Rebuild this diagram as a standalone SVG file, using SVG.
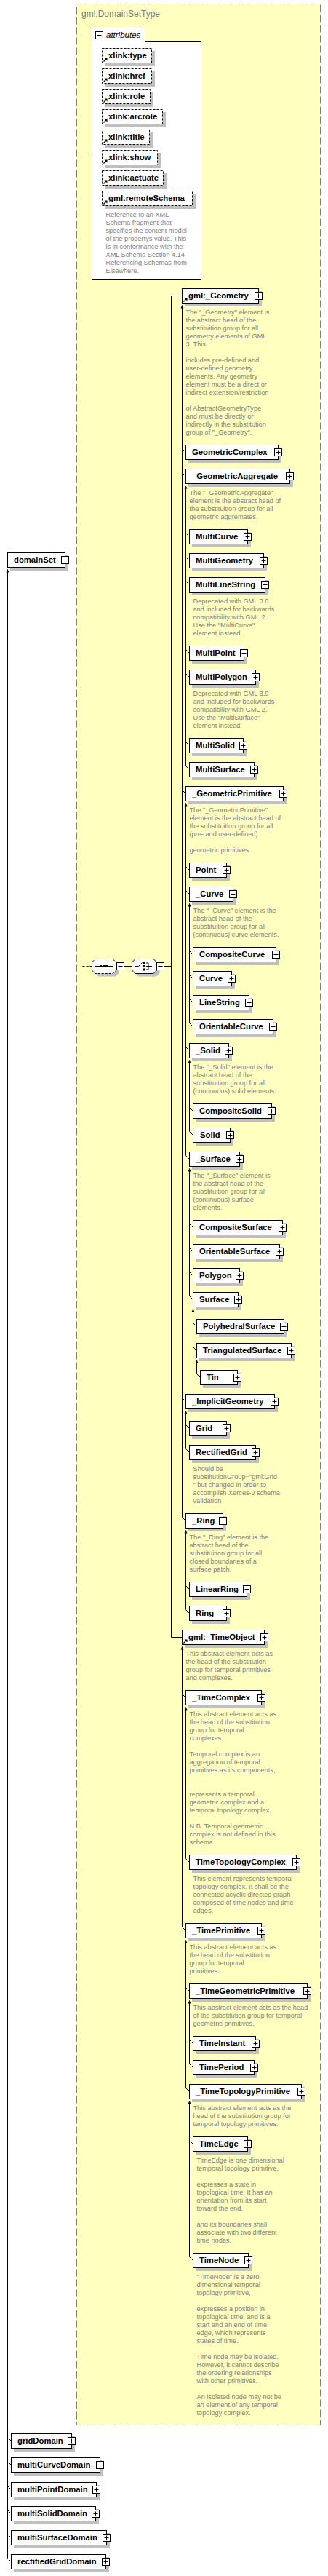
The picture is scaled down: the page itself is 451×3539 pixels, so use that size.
<svg xmlns="http://www.w3.org/2000/svg" width="451" height="3539" viewBox="0 0 451 3539">
<style>
.bx{fill:#fff;stroke:#000;stroke-width:1}
.ad{fill:#fff;stroke:#000;stroke-width:1;stroke-dasharray:3,2}
.sh{fill:#c0c0c0}
.lb{font-family:"Liberation Sans",Arial,sans-serif;font-weight:bold;font-size:11.3px;fill:#000}
.ds{font-family:"Liberation Sans",Arial,sans-serif;font-size:9.2px;fill:#808080}
.ln{fill:none;stroke:#000;stroke-width:1}
.dl{fill:none;stroke:#000;stroke-width:1;stroke-dasharray:3,2}
.ti{font-family:"Liberation Sans",Arial,sans-serif;font-size:12px;fill:#808080}
</style>
<defs>
<g id="p"><rect x="-5" y="-5" width="10" height="10" fill="#fff" stroke="#000"/><path d="M-3,0H3M0,-3V3" stroke="#000"/></g>
<g id="m"><rect x="-5" y="-5" width="10" height="10" fill="#fff" stroke="#000"/><path d="M-3,0H3" stroke="#000"/></g>
<g id="rf"><path d="M2,-2L5.5,-5.5" stroke="#000" stroke-width="1.2"/><path d="M3,-7H7V-3Z" fill="#000"/></g>
<path id="ar" d="M0,2.5L-2,7H2Z" fill="#000"/>
</defs>

<g id="type-box">
<rect x="105.5" y="5.5" width="335" height="3326" fill="#ffffc0" stroke="#808080" stroke-dasharray="10,4"/>
<text class="ti" x="112" y="23">gml:DomainSetType</text>
</g>

<g id="connectors">
<path class="ln" d="M126.5,211.5H111.5V769.5M94.5,769.5H111.5"/>
<path class="dl" d="M111.5,769.5V1327.5H126.5"/>
<path class="ln" d="M170.5,1327.5H181.5M225.5,1327.5H235.5M250.5,406.5H235.5V2249.5H250.5"/>
<path class="ln" d="M10.5,782.5V3514.5M250.5,419.5V2084.5M255.5,667.5V1052.5M255.5,1103.5V1587.5M260.5,1241.5V1405.5M260.5,1456.5V1554.5M260.5,1605.5V1780.5M265.5,1798.5V1850.5M270.5,1868.5V1887.5M255.5,1938.5V1990.5M255.5,2102.5V2211.5M250.5,2262.5V2647.5M255.5,2345.5V2553.5M255.5,2665.5V2868.5M260.5,2748.5V2835.5M260.5,2886.5V3100.5"/>
<use href="#ar" x="10.5" y="779.5"/>
<use href="#ar" x="250.5" y="416.5"/>
<use href="#ar" x="255.5" y="664.5"/>
<use href="#ar" x="255.5" y="1100.5"/>
<use href="#ar" x="260.5" y="1238.5"/>
<use href="#ar" x="260.5" y="1453.5"/>
<use href="#ar" x="260.5" y="1602.5"/>
<use href="#ar" x="265.5" y="1795.5"/>
<use href="#ar" x="270.5" y="1865.5"/>
<use href="#ar" x="255.5" y="1935.5"/>
<use href="#ar" x="255.5" y="2099.5"/>
<use href="#ar" x="250.5" y="2259.5"/>
<use href="#ar" x="255.5" y="2342.5"/>
<use href="#ar" x="255.5" y="2662.5"/>
<use href="#ar" x="260.5" y="2745.5"/>
<use href="#ar" x="260.5" y="2883.5"/>
<path class="ln" d="M250.5,616.5l5,5M250.5,649.5l5,5M255.5,732.5l5,5M255.5,765.5l5,5M255.5,798.5l5,5M255.5,892.5l5,5M255.5,925.5l5,5M255.5,1019.5l5,5M255.5,1052.5l5,5M250.5,1085.5l5,5M255.5,1190.5l5,5M255.5,1223.5l5,5M260.5,1306.5l5,5M260.5,1339.5l5,5M260.5,1372.5l5,5M260.5,1405.5l5,5M255.5,1438.5l5,5M260.5,1521.5l5,5M260.5,1554.5l5,5M255.5,1587.5l5,5M260.5,1681.5l5,5M260.5,1714.5l5,5M260.5,1747.5l5,5M260.5,1780.5l5,5M265.5,1817.5l5,5M265.5,1850.5l5,5M270.5,1887.5l5,5M250.5,1920.5l5,5M255.5,1957.5l5,5M255.5,1990.5l5,5M250.5,2084.5l5,5M255.5,2178.5l5,5M255.5,2211.5l5,5M250.5,2327.5l5,5M255.5,2553.5l5,5M250.5,2647.5l5,5M255.5,2730.5l5,5M260.5,2802.5l5,5M260.5,2835.5l5,5M255.5,2868.5l5,5M260.5,2940.5l5,5M260.5,3100.5l5,5M10.5,3348.5l5,5M10.5,3381.5l5,5M10.5,3415.5l5,5M10.5,3448.5l5,5M10.5,3481.5l5,5M10.5,3514.5l5,5"/>
</g>

<g id="attributes">
<path d="M126.5,38.5H199.5V57.5H276.5V383.5H126.5Z" fill="#fff" stroke="#000"/>
<use href="#m" x="136.5" y="48.5"/>
<text x="146" y="52" font-family="Liberation Sans,Arial,sans-serif" font-style="italic" font-size="11.5px" fill="#000">attributes</text>
</g>

<g id="a-type"><rect class="sh" x="144" y="70" width="69" height="21"/><rect class="ad" x="140.5" y="66.5" width="68" height="20"/><text class="lb" x="149" y="80">xlink:type</text><use href="#rf" x="140.5" y="86.5"/></g>
<g id="a-href"><rect class="sh" x="144" y="98" width="69" height="21"/><rect class="ad" x="140.5" y="94.5" width="68" height="20"/><text class="lb" x="149" y="108">xlink:href</text><use href="#rf" x="140.5" y="114.5"/></g>
<g id="a-role"><rect class="sh" x="144" y="126" width="67" height="21"/><rect class="ad" x="140.5" y="122.5" width="66" height="20"/><text class="lb" x="149" y="136">xlink:role</text><use href="#rf" x="140.5" y="142.5"/></g>
<g id="a-arcrole"><rect class="sh" x="144" y="154" width="84" height="21"/><rect class="ad" x="140.5" y="150.5" width="83" height="20"/><text class="lb" x="149" y="164">xlink:arcrole</text><use href="#rf" x="140.5" y="170.5"/></g>
<g id="a-title"><rect class="sh" x="144" y="182" width="66" height="21"/><rect class="ad" x="140.5" y="178.5" width="65" height="20"/><text class="lb" x="149" y="192">xlink:title</text><use href="#rf" x="140.5" y="198.5"/></g>
<g id="a-show"><rect class="sh" x="144" y="210" width="77" height="21"/><rect class="ad" x="140.5" y="206.5" width="76" height="20"/><text class="lb" x="149" y="220">xlink:show</text><use href="#rf" x="140.5" y="226.5"/></g>
<g id="a-actuate"><rect class="sh" x="144" y="238" width="85" height="21"/><rect class="ad" x="140.5" y="234.5" width="84" height="20"/><text class="lb" x="149" y="248">xlink:actuate</text><use href="#rf" x="140.5" y="254.5"/></g>
<g id="a-remoteSchema"><rect class="sh" x="144" y="266" width="125" height="21"/><rect class="ad" x="140.5" y="262.5" width="124" height="20"/><text class="lb" x="149" y="276">gml:remoteSchema</text><use href="#rf" x="140.5" y="282.5"/>
<text class="ds"><tspan x="145.5" y="297.5">Reference to an XML</tspan><tspan x="145.5" y="308.5">Schema fragment that</tspan><tspan x="145.5" y="319.5">specifies the content model</tspan><tspan x="145.5" y="330.5">of the propertys value. This</tspan><tspan x="145.5" y="341.5">is in conformance with the</tspan><tspan x="145.5" y="352.5">XML Schema Section 4.14</tspan><tspan x="145.5" y="363.5">Referencing Schemas from</tspan><tspan x="145.5" y="374.5">Elsewhere.</tspan></text></g>

<g id="domainSet"><rect class="sh" x="14" y="763" width="80" height="21"/><rect class="bx" x="10.5" y="759.5" width="79" height="20"/><text class="lb" x="19" y="773">domainSet</text><use href="#m" x="89.5" y="769.5"/></g>

<g id="sequence">
<path d="M135,1321.5H159L163.5,1326V1337L159,1341.5H135L130.5,1337V1326Z" fill="#c0c0c0"/>
<path d="M131,1317.5H155L159.5,1322V1333L155,1337.5H131L126.5,1333V1322Z" fill="#fff" stroke="#000" stroke-dasharray="3,2"/>
<path class="ln" d="M131,1327.5H156"/>
<rect x="137" y="1326" width="3" height="3"/><rect x="141" y="1326" width="3" height="3"/><rect x="145" y="1326" width="3" height="3"/>
<use href="#m" x="165.5" y="1327.5"/>
</g>

<g id="choice">
<path d="M190,1321.5H215L219.5,1326V1337L215,1341.5H190L185.5,1337V1326Z" fill="#c0c0c0"/>
<path d="M186,1317.5H211L215.5,1322V1333L211,1337.5H186L181.5,1333V1322Z" fill="#fff" stroke="#000"/>
<path class="ln" d="M186,1327.5H190.5L195.5,1322.5M201,1323H204M201,1327.5H209M201,1332H204M204,1323V1332"/>
<rect x="197" y="1321.5" width="3" height="3"/><rect x="197" y="1326" width="3" height="3"/><rect x="197" y="1330.5" width="3" height="3"/>
<use href="#m" x="220.5" y="1327.5"/>
</g>

<g id="n-Geometry"><rect class="sh" x="254" y="400" width="106" height="21"/><rect class="bx" x="250.5" y="396.5" width="105" height="20"/><text class="lb" x="259" y="410">gml:_Geometry</text><use href="#rf" x="250.5" y="416.5"/><use href="#p" x="355.5" y="406.5"/>
<text class="ds"><tspan x="255.5" y="431.5">The "_Geometry" element is</tspan><tspan x="255.5" y="442.5">the abstract head of the</tspan><tspan x="255.5" y="453.5">substituition group for all</tspan><tspan x="255.5" y="464.5">geometry elements of GML</tspan><tspan x="255.5" y="475.5">3. This</tspan><tspan x="255.5" y="497.5">includes pre-defined and</tspan><tspan x="255.5" y="508.5">user-defined geometry</tspan><tspan x="255.5" y="519.5">elements. Any geometry</tspan><tspan x="255.5" y="530.5">element must be a direct or</tspan><tspan x="255.5" y="541.5">indirect extension/restriction</tspan><tspan x="255.5" y="563.5">of AbstractGeometryType</tspan><tspan x="255.5" y="574.5">and must be directly or</tspan><tspan x="255.5" y="585.5">indirectly in the substitution</tspan><tspan x="255.5" y="596.5">group of "_Geometry".</tspan></text></g>

<g id="n-GeometricComplex"><rect class="sh" x="259" y="615" width="128" height="21"/><rect class="bx" x="255.5" y="611.5" width="127" height="20"/><text class="lb" x="264" y="625">GeometricComplex</text><use href="#p" x="382.5" y="621.5"/></g>

<g id="n-GeometricAggregate"><rect class="sh" x="259" y="648" width="144" height="21"/><rect class="bx" x="255.5" y="644.5" width="143" height="20"/><text class="lb" x="264" y="658">_GeometricAggregate</text><use href="#p" x="398.5" y="654.5"/>
<text class="ds"><tspan x="260.5" y="679.5">The "_GeometricAggregate"</tspan><tspan x="260.5" y="690.5">element is the abstract head of</tspan><tspan x="260.5" y="701.5">the substituition group for all</tspan><tspan x="260.5" y="712.5">geometric aggremates.</tspan></text></g>

<g id="n-MultiCurve"><rect class="sh" x="264" y="731" width="81" height="21"/><rect class="bx" x="260.5" y="727.5" width="80" height="20"/><text class="lb" x="269" y="741">MultiCurve</text><use href="#p" x="340.5" y="737.5"/></g>
<g id="n-MultiGeometry"><rect class="sh" x="264" y="764" width="103" height="21"/><rect class="bx" x="260.5" y="760.5" width="102" height="20"/><text class="lb" x="269" y="774">MultiGeometry</text><use href="#p" x="362.5" y="770.5"/></g>
<g id="n-MultiLineString"><rect class="sh" x="264" y="797" width="105" height="21"/><rect class="bx" x="260.5" y="793.5" width="104" height="20"/><text class="lb" x="269" y="807">MultiLineString</text><use href="#p" x="364.5" y="803.5"/>
<text class="ds"><tspan x="265.5" y="828.5">Deprecated with GML 3.0</tspan><tspan x="265.5" y="839.5">and included for backwards</tspan><tspan x="265.5" y="850.5">compatibility with GML 2.</tspan><tspan x="265.5" y="861.5">Use the "MultiCurve"</tspan><tspan x="265.5" y="872.5">element instead.</tspan></text></g>
<g id="n-MultiPoint"><rect class="sh" x="264" y="891" width="76" height="21"/><rect class="bx" x="260.5" y="887.5" width="75" height="20"/><text class="lb" x="269" y="901">MultiPoint</text><use href="#p" x="335.5" y="897.5"/></g>
<g id="n-MultiPolygon"><rect class="sh" x="264" y="924" width="92" height="21"/><rect class="bx" x="260.5" y="920.5" width="91" height="20"/><text class="lb" x="269" y="934">MultiPolygon</text><use href="#p" x="351.5" y="930.5"/>
<text class="ds"><tspan x="265.5" y="955.5">Deprecated with GML 3.0</tspan><tspan x="265.5" y="966.5">and included for backwards</tspan><tspan x="265.5" y="977.5">compatibility with GML 2.</tspan><tspan x="265.5" y="988.5">Use the "MultiSurface"</tspan><tspan x="265.5" y="999.5">element instead.</tspan></text></g>
<g id="n-MultiSolid"><rect class="sh" x="264" y="1018" width="75" height="21"/><rect class="bx" x="260.5" y="1014.5" width="74" height="20"/><text class="lb" x="269" y="1028">MultiSolid</text><use href="#p" x="334.5" y="1024.5"/></g>
<g id="n-MultiSurface"><rect class="sh" x="264" y="1051" width="90" height="21"/><rect class="bx" x="260.5" y="1047.5" width="89" height="20"/><text class="lb" x="269" y="1061">MultiSurface</text><use href="#p" x="349.5" y="1057.5"/></g>

<g id="n-GeometricPrimitive"><rect class="sh" x="259" y="1084" width="135" height="21"/><rect class="bx" x="255.5" y="1080.5" width="134" height="20"/><text class="lb" x="264" y="1094">_GeometricPrimitive</text><use href="#p" x="389.5" y="1090.5"/>
<text class="ds"><tspan x="260.5" y="1115.5">The "_GeometricPrimitive"</tspan><tspan x="260.5" y="1126.5">element is the abstract head of</tspan><tspan x="260.5" y="1137.5">the substituition group for all</tspan><tspan x="260.5" y="1148.5">(pre- and user-defined)</tspan><tspan x="260.5" y="1170.5">geometric primitives.</tspan></text></g>

<g id="n-Point"><rect class="sh" x="264" y="1189" width="52" height="21"/><rect class="bx" x="260.5" y="1185.5" width="51" height="20"/><text class="lb" x="269" y="1199">Point</text><use href="#p" x="311.5" y="1195.5"/></g>
<g id="n-Curve_"><rect class="sh" x="264" y="1222" width="61" height="21"/><rect class="bx" x="260.5" y="1218.5" width="60" height="20"/><text class="lb" x="269" y="1232">_Curve</text><use href="#p" x="320.5" y="1228.5"/>
<text class="ds"><tspan x="265.5" y="1253.5">The "_Curve" element is the</tspan><tspan x="265.5" y="1264.5">abstract head of the</tspan><tspan x="265.5" y="1275.5">substituition group for all</tspan><tspan x="265.5" y="1286.5">(continuous) curve elements.</tspan></text></g>
<g id="n-CompositeCurve"><rect class="sh" x="269" y="1305" width="115" height="21"/><rect class="bx" x="265.5" y="1301.5" width="114" height="20"/><text class="lb" x="274" y="1315">CompositeCurve</text><use href="#p" x="379.5" y="1311.5"/></g>
<g id="n-Curve"><rect class="sh" x="269" y="1338" width="54" height="21"/><rect class="bx" x="265.5" y="1334.5" width="53" height="20"/><text class="lb" x="274" y="1348">Curve</text><use href="#p" x="318.5" y="1344.5"/></g>
<g id="n-LineString"><rect class="sh" x="269" y="1371" width="78" height="21"/><rect class="bx" x="265.5" y="1367.5" width="77" height="20"/><text class="lb" x="274" y="1381">LineString</text><use href="#p" x="342.5" y="1377.5"/></g>
<g id="n-OrientableCurve"><rect class="sh" x="269" y="1404" width="111" height="21"/><rect class="bx" x="265.5" y="1400.5" width="110" height="20"/><text class="lb" x="274" y="1414">OrientableCurve</text><use href="#p" x="375.5" y="1410.5"/></g>

<g id="n-Solid_"><rect class="sh" x="264" y="1437" width="55" height="21"/><rect class="bx" x="260.5" y="1433.5" width="54" height="20"/><text class="lb" x="269" y="1447">_Solid</text><use href="#p" x="314.5" y="1443.5"/>
<text class="ds"><tspan x="265.5" y="1468.5">The "_Solid" element is the</tspan><tspan x="265.5" y="1479.5">abstract head of the</tspan><tspan x="265.5" y="1490.5">substituition group for all</tspan><tspan x="265.5" y="1501.5">(continuous) solid elements.</tspan></text></g>
<g id="n-CompositeSolid"><rect class="sh" x="269" y="1520" width="109" height="21"/><rect class="bx" x="265.5" y="1516.5" width="108" height="20"/><text class="lb" x="274" y="1530">CompositeSolid</text><use href="#p" x="373.5" y="1526.5"/></g>
<g id="n-Solid"><rect class="sh" x="269" y="1553" width="52" height="21"/><rect class="bx" x="265.5" y="1549.5" width="51" height="20"/><text class="lb" x="275" y="1563">Solid</text><use href="#p" x="316.5" y="1559.5"/></g>

<g id="n-Surface_"><rect class="sh" x="264" y="1586" width="70" height="21"/><rect class="bx" x="260.5" y="1582.5" width="69" height="20"/><text class="lb" x="269" y="1596">_Surface</text><use href="#p" x="329.5" y="1592.5"/>
<text class="ds"><tspan x="265.5" y="1617.5">The "_Surface" element is</tspan><tspan x="265.5" y="1628.5">the abstract head of the</tspan><tspan x="265.5" y="1639.5">substituition group for all</tspan><tspan x="265.5" y="1650.5">(continuous) surface</tspan><tspan x="265.5" y="1661.5">elements.</tspan></text></g>
<g id="n-CompositeSurface"><rect class="sh" x="269" y="1680" width="124" height="21"/><rect class="bx" x="265.5" y="1676.5" width="123" height="20"/><text class="lb" x="274" y="1690">CompositeSurface</text><use href="#p" x="388.5" y="1686.5"/></g>
<g id="n-OrientableSurface"><rect class="sh" x="269" y="1713" width="120" height="21"/><rect class="bx" x="265.5" y="1709.5" width="119" height="20"/><text class="lb" x="274" y="1723">OrientableSurface</text><use href="#p" x="384.5" y="1719.5"/></g>
<g id="n-Polygon"><rect class="sh" x="269" y="1746" width="65" height="21"/><rect class="bx" x="265.5" y="1742.5" width="64" height="20"/><text class="lb" x="274" y="1756">Polygon</text><use href="#p" x="329.5" y="1752.5"/></g>
<g id="n-Surface"><rect class="sh" x="269" y="1779" width="63" height="21"/><rect class="bx" x="265.5" y="1775.5" width="62" height="20"/><text class="lb" x="274" y="1789">Surface</text><use href="#p" x="327.5" y="1785.5"/></g>
<g id="n-PolyhedralSurface"><rect class="sh" x="274" y="1816" width="121" height="21"/><rect class="bx" x="270.5" y="1812.5" width="120" height="20"/><text class="lb" x="279" y="1826">PolyhedralSurface</text><use href="#p" x="390.5" y="1822.5"/></g>
<g id="n-TriangulatedSurface"><rect class="sh" x="274" y="1849" width="131" height="21"/><rect class="bx" x="270.5" y="1845.5" width="130" height="20"/><text class="lb" x="279" y="1859">TriangulatedSurface</text><use href="#p" x="400.5" y="1855.5"/></g>
<g id="n-Tin"><rect class="sh" x="279" y="1886" width="52" height="21"/><rect class="bx" x="275.5" y="1882.5" width="51" height="20"/><text class="lb" x="284" y="1896">Tin</text><use href="#p" x="326.5" y="1892.5"/></g>

<g id="n-ImplicitGeometry"><rect class="sh" x="259" y="1919" width="123" height="21"/><rect class="bx" x="255.5" y="1915.5" width="122" height="20"/><text class="lb" x="264" y="1929">_ImplicitGeometry</text><use href="#p" x="377.5" y="1925.5"/></g>
<g id="n-Grid"><rect class="sh" x="264" y="1956" width="52" height="21"/><rect class="bx" x="260.5" y="1952.5" width="51" height="20"/><text class="lb" x="269" y="1966">Grid</text><use href="#p" x="311.5" y="1962.5"/></g>
<g id="n-RectifiedGrid"><rect class="sh" x="264" y="1989" width="92" height="21"/><rect class="bx" x="260.5" y="1985.5" width="91" height="20"/><text class="lb" x="269" y="1999">RectifiedGrid</text><use href="#p" x="351.5" y="1995.5"/>
<text class="ds"><tspan x="265.5" y="2020.5">Should be</tspan><tspan x="265.5" y="2031.5">substitutionGroup="gml:Grid</tspan><tspan x="265.5" y="2042.5">" but changed in order to</tspan><tspan x="265.5" y="2053.5">accomplish Xerces-J schema</tspan><tspan x="265.5" y="2064.5">validation</tspan></text></g>

<g id="n-Ring_"><rect class="sh" x="259" y="2083" width="52" height="21"/><rect class="bx" x="255.5" y="2079.5" width="51" height="20"/><text class="lb" x="264" y="2093">_Ring</text><use href="#p" x="306.5" y="2089.5"/>
<text class="ds"><tspan x="260.5" y="2114.5">The "_Ring" element is the</tspan><tspan x="260.5" y="2125.5">abstract head of the</tspan><tspan x="260.5" y="2136.5">substituition group for all</tspan><tspan x="260.5" y="2147.5">closed boundaries of a</tspan><tspan x="260.5" y="2158.5">surface patch.</tspan></text></g>
<g id="n-LinearRing"><rect class="sh" x="264" y="2177" width="80" height="21"/><rect class="bx" x="260.5" y="2173.5" width="79" height="20"/><text class="lb" x="269" y="2187">LinearRing</text><use href="#p" x="339.5" y="2183.5"/></g>
<g id="n-Ring"><rect class="sh" x="264" y="2210" width="52" height="21"/><rect class="bx" x="260.5" y="2206.5" width="51" height="20"/><text class="lb" x="269" y="2220">Ring</text><use href="#p" x="311.5" y="2216.5"/></g>

<g id="n-TimeObject"><rect class="sh" x="254" y="2243" width="114" height="21"/><rect class="bx" x="250.5" y="2239.5" width="113" height="20"/><text class="lb" x="259" y="2253">gml:_TimeObject</text><use href="#rf" x="250.5" y="2259.5"/><use href="#p" x="363.5" y="2249.5"/>
<text class="ds"><tspan x="255.5" y="2274.5">This abstract element acts as</tspan><tspan x="255.5" y="2285.5">the head of the substitution</tspan><tspan x="255.5" y="2296.5">group for temporal primitives</tspan><tspan x="255.5" y="2307.5">and complexes.</tspan></text></g>

<g id="n-TimeComplex"><rect class="sh" x="259" y="2326" width="105" height="21"/><rect class="bx" x="255.5" y="2322.5" width="104" height="20"/><text class="lb" x="264" y="2336">_TimeComplex</text><use href="#p" x="359.5" y="2332.5"/>
<text class="ds"><tspan x="260.5" y="2357.5">This abstract element acts as</tspan><tspan x="260.5" y="2368.5">the head of the substitution</tspan><tspan x="260.5" y="2379.5">group for temporal</tspan><tspan x="260.5" y="2390.5">complexes.</tspan><tspan x="260.5" y="2412.5">Temporal complex is an</tspan><tspan x="260.5" y="2423.5">aggregation of temporal</tspan><tspan x="260.5" y="2434.5">primitives as its components,</tspan><tspan x="260.5" y="2467.5">represents a temporal</tspan><tspan x="260.5" y="2478.5">geometric complex and a</tspan><tspan x="260.5" y="2489.5">temporal topology complex.</tspan><tspan x="260.5" y="2511.5">N.B. Temporal geometric</tspan><tspan x="260.5" y="2522.5">complex is not defined in this</tspan><tspan x="260.5" y="2533.5">schema.</tspan></text></g>
<g id="n-TimeTopologyComplex"><rect class="sh" x="264" y="2552" width="148" height="21"/><rect class="bx" x="260.5" y="2548.5" width="147" height="20"/><text class="lb" x="269" y="2562">TimeTopologyComplex</text><use href="#p" x="407.5" y="2558.5"/>
<text class="ds"><tspan x="265.5" y="2583.5">This element represents temporal</tspan><tspan x="265.5" y="2594.5">topology complex. It shall be the</tspan><tspan x="265.5" y="2605.5">connected acyclic directed graph</tspan><tspan x="265.5" y="2616.5">composed of time nodes and time</tspan><tspan x="265.5" y="2627.5">edges.</tspan></text></g>

<g id="n-TimePrimitive"><rect class="sh" x="259" y="2646" width="105" height="21"/><rect class="bx" x="255.5" y="2642.5" width="104" height="20"/><text class="lb" x="264" y="2656">_TimePrimitive</text><use href="#p" x="359.5" y="2652.5"/>
<text class="ds"><tspan x="260.5" y="2677.5">This abstract element acts as</tspan><tspan x="260.5" y="2688.5">the head of the substitution</tspan><tspan x="260.5" y="2699.5">group for temporal</tspan><tspan x="260.5" y="2710.5">primitives.</tspan></text></g>
<g id="n-TimeGeometricPrimitive"><rect class="sh" x="264" y="2729" width="163" height="21"/><rect class="bx" x="260.5" y="2725.5" width="162" height="20"/><text class="lb" x="269" y="2739">_TimeGeometricPrimitive</text><use href="#p" x="422.5" y="2735.5"/>
<text class="ds"><tspan x="265.5" y="2760.5">This abstract element acts as the head</tspan><tspan x="265.5" y="2771.5">of the substitution group for temporal</tspan><tspan x="265.5" y="2782.5">geometric primitives.</tspan></text></g>
<g id="n-TimeInstant"><rect class="sh" x="269" y="2801" width="87" height="21"/><rect class="bx" x="265.5" y="2797.5" width="86" height="20"/><text class="lb" x="274" y="2811">TimeInstant</text><use href="#p" x="351.5" y="2807.5"/></g>
<g id="n-TimePeriod"><rect class="sh" x="269" y="2834" width="85" height="21"/><rect class="bx" x="265.5" y="2830.5" width="84" height="20"/><text class="lb" x="274" y="2844">TimePeriod</text><use href="#p" x="349.5" y="2840.5"/></g>
<g id="n-TimeTopologyPrimitive"><rect class="sh" x="264" y="2867" width="155" height="21"/><rect class="bx" x="260.5" y="2863.5" width="154" height="20"/><text class="lb" x="269" y="2877">_TimeTopologyPrimitive</text><use href="#p" x="414.5" y="2873.5"/>
<text class="ds"><tspan x="265.5" y="2898.5">This abstract element acts as the</tspan><tspan x="265.5" y="2909.5">head of the substitution group for</tspan><tspan x="265.5" y="2920.5">temporal topology primitives.</tspan></text></g>
<g id="n-TimeEdge"><rect class="sh" x="269" y="2939" width="76" height="21"/><rect class="bx" x="265.5" y="2935.5" width="75" height="20"/><text class="lb" x="274" y="2949">TimeEdge</text><use href="#p" x="340.5" y="2945.5"/>
<text class="ds"><tspan x="270.5" y="2970.5">TimeEdge is one dimensional</tspan><tspan x="270.5" y="2981.5">temporal topology primitive,</tspan><tspan x="270.5" y="3003.5">expresses a state in</tspan><tspan x="270.5" y="3014.5">topological time. It has an</tspan><tspan x="270.5" y="3025.5">orientation from its start</tspan><tspan x="270.5" y="3036.5">toward the end,</tspan><tspan x="270.5" y="3058.5">and its boundaries shall</tspan><tspan x="270.5" y="3069.5">associate with two different</tspan><tspan x="270.5" y="3080.5">time nodes.</tspan></text></g>
<g id="n-TimeNode"><rect class="sh" x="269" y="3099" width="77" height="21"/><rect class="bx" x="265.5" y="3095.5" width="76" height="20"/><text class="lb" x="274" y="3109">TimeNode</text><use href="#p" x="341.5" y="3105.5"/>
<text class="ds"><tspan x="270.5" y="3130.5">"TimeNode" is a zero</tspan><tspan x="270.5" y="3141.5">dimensional temporal</tspan><tspan x="270.5" y="3152.5">topology primitive,</tspan><tspan x="270.5" y="3174.5">expresses a position in</tspan><tspan x="270.5" y="3185.5">topological time, and is a</tspan><tspan x="270.5" y="3196.5">start and an end of time</tspan><tspan x="270.5" y="3207.5">edge, which represents</tspan><tspan x="270.5" y="3218.5">states of time.</tspan><tspan x="270.5" y="3240.5">Time node may be isolated.</tspan><tspan x="270.5" y="3251.5">However, it cannot describe</tspan><tspan x="270.5" y="3262.5">the ordering relationships</tspan><tspan x="270.5" y="3273.5">with other primitives.</tspan><tspan x="270.5" y="3295.5">An isolated node may not be</tspan><tspan x="270.5" y="3306.5">an element of any temporal</tspan><tspan x="270.5" y="3317.5">topology complex.</tspan></text></g>

<g id="n-gridDomain"><rect class="sh" x="19" y="3347" width="84" height="21"/><rect class="bx" x="15.5" y="3343.5" width="83" height="20"/><text class="lb" x="24" y="3357">gridDomain</text><use href="#p" x="98.5" y="3353.5"/></g>
<g id="n-multiCurveDomain"><rect class="sh" x="19" y="3380" width="123" height="21"/><rect class="bx" x="15.5" y="3376.5" width="122" height="20"/><text class="lb" x="24" y="3390">multiCurveDomain</text><use href="#p" x="137.5" y="3386.5"/></g>
<g id="n-multiPointDomain"><rect class="sh" x="19" y="3414" width="118" height="21"/><rect class="bx" x="15.5" y="3410.5" width="117" height="20"/><text class="lb" x="24" y="3424">multiPointDomain</text><use href="#p" x="132.5" y="3420.5"/></g>
<g id="n-multiSolidDomain"><rect class="sh" x="19" y="3447" width="117" height="21"/><rect class="bx" x="15.5" y="3443.5" width="116" height="20"/><text class="lb" x="24" y="3457">multiSolidDomain</text><use href="#p" x="131.5" y="3453.5"/></g>
<g id="n-multiSurfaceDomain"><rect class="sh" x="19" y="3480" width="132" height="21"/><rect class="bx" x="15.5" y="3476.5" width="131" height="20"/><text class="lb" x="24" y="3490">multiSurfaceDomain</text><use href="#p" x="146.5" y="3486.5"/></g>
<g id="n-rectifiedGridDomain"><rect class="sh" x="19" y="3513" width="131" height="21"/><rect class="bx" x="15.5" y="3509.5" width="130" height="20"/><text class="lb" x="24" y="3523">rectifiedGridDomain</text><use href="#p" x="145.5" y="3519.5"/></g>
</svg>
